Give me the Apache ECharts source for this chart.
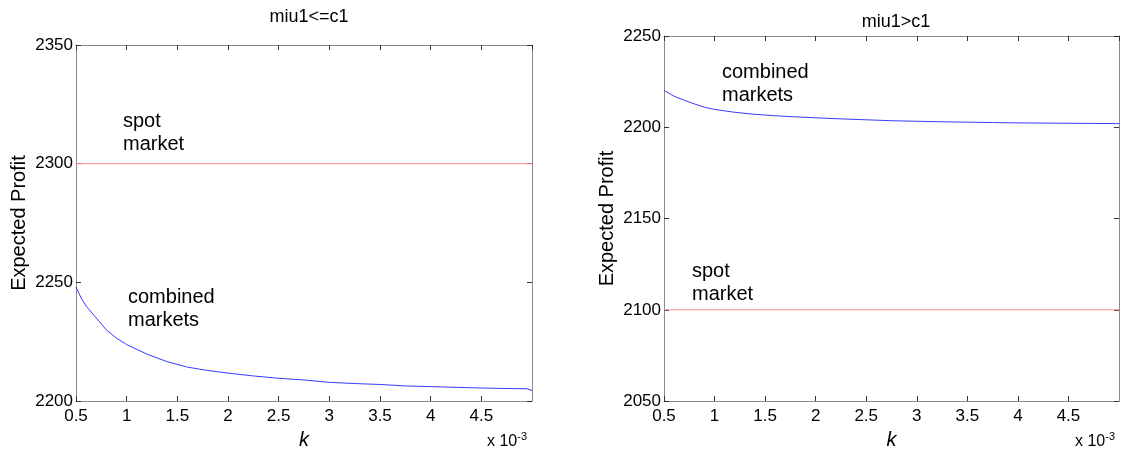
<!DOCTYPE html>
<html>
<head>
<meta charset="utf-8">
<script src="https://cdn.jsdelivr.net/npm/echarts@6/dist/echarts.min.js"></script>
<style>
html,body{margin:0;padding:0;background:#fff;}
#chart{width:1125px;height:455px;}
</style>
</head>
<body>
<div id="chart"></div>
<script>
// ---- data ----
var titles = ['miu1<=c1', 'miu1>c1'];
var xTicks = [0.5, 1, 1.5, 2, 2.5, 3, 3.5, 4, 4.5, 5];
var yTicksLeft = [2200, 2250, 2300, 2350];
var yTicksRight = [2050, 2100, 2150, 2200, 2250];

var kLeft = [0.5, 0.55, 0.6, 0.7, 0.8, 0.9, 1.0, 1.2, 1.4, 1.6, 1.8, 2.0, 2.25, 2.5, 2.75, 3.0, 3.25, 3.5, 3.75, 4.0, 4.25, 4.5, 4.75, 4.95, 5.0];
var combinedLeft = [2248, 2243.5, 2240, 2235, 2230, 2226.5, 2223.8, 2219.8, 2216.6, 2214.3, 2212.9, 2211.8, 2210.6, 2209.6, 2208.9, 2207.9, 2207.4, 2207.0, 2206.4, 2206.1, 2205.8, 2205.5, 2205.3, 2205.2, 2204.5];
var spotLeft = 2300;

var kRight = [0.5, 0.6, 0.7, 0.8, 0.9, 1.0, 1.2, 1.4, 1.6, 1.8, 2.0, 2.25, 2.5, 2.75, 3.0, 3.25, 3.5, 3.75, 4.0, 4.25, 4.5, 4.75, 5.0];
var combinedRight = [2220.2, 2217, 2214.8, 2212.8, 2211, 2209.8, 2208.2, 2207.1, 2206.3, 2205.7, 2205.2, 2204.6, 2204.1, 2203.6, 2203.3, 2203.0, 2202.8, 2202.6, 2202.4, 2202.3, 2202.2, 2202.1, 2202.0];
var spotRight = 2100;

var kRange = [0.5, 5];

// ---- build ----
var FONT = '"Liberation Sans", Arial, Helvetica, sans-serif';
function pairs(xs, ys) { return xs.map(function (x, i) { return [x, ys[i]]; }); }
function flat(v) { return kRange.map(function (x) { return [x, v]; }); }

var grids = [
  {left: 76, top: 45, width: 456, height: 358},
  {left: 664, top: 36, width: 455, height: 367}
];

function xAxisPair(gi) {
  var base = {
    type: 'value', gridIndex: gi, min: kRange[0], max: kRange[1], interval: xTicks[1] - xTicks[0],
    axisLine: {show: true, lineStyle: {color: '#8a8a8a', width: 1}},
    axisTick: {show: true, inside: true, length: 5, lineStyle: {color: '#333'}},
    splitLine: {show: false}
  };
  var bottom = Object.assign({}, base, {
    position: 'bottom',
    axisLabel: {show: true, color: '#000', fontSize: 17, fontFamily: FONT, margin: 7, showMaxLabel: false,
      formatter: function (v) { return String(v); }},
    name: 'k', nameLocation: 'middle', nameGap: 27,
    nameTextStyle: {fontStyle: 'italic', fontSize: 20, color: '#000', fontFamily: FONT}
  });
  var top = Object.assign({}, base, {position: 'top', axisLabel: {show: false}});
  return [bottom, top];
}
function yAxisPair(gi, ticks) {
  var base = {
    type: 'value', gridIndex: gi, min: ticks[0], max: ticks[ticks.length - 1], interval: ticks[1] - ticks[0],
    axisLine: {show: true, lineStyle: {color: '#8a8a8a', width: 1}},
    axisTick: {show: true, inside: true, length: 5, lineStyle: {color: '#333'}},
    splitLine: {show: false}
  };
  var left = Object.assign({}, base, {
    position: 'left',
    axisLabel: {show: true, color: '#000', fontSize: 17, fontFamily: FONT, margin: 3,
      formatter: function (v) { return String(v); }},
    name: 'Expected Profit', nameLocation: 'middle', nameGap: 47,
    nameTextStyle: {fontSize: 20, color: '#000', fontFamily: FONT}
  });
  var right = Object.assign({}, base, {position: 'right', axisLabel: {show: false}});
  return [left, right];
}

var xAxes = xAxisPair(0).concat(xAxisPair(1));
var yAxes = yAxisPair(0, yTicksLeft).concat(yAxisPair(1, yTicksRight));

function lineSeries(xi, yi, data, color) {
  return {
    type: 'line', xAxisIndex: xi, yAxisIndex: yi, data: data,
    showSymbol: false, symbol: 'none', smooth: false, animation: false,
    lineStyle: {color: color, width: 1}, silent: true
  };
}

var textStyle = {fill: '#000', fontSize: 20, fontFamily: FONT, lineHeight: 23};
function note(x, y, txt) {
  return {type: 'text', left: x, top: y, style: Object.assign({text: txt}, textStyle), silent: true};
}
function scale10(x) {
  return {type: 'text', left: x, top: 431, silent: true,
    style: {text: '{a|x 10}{b|-3}', fontFamily: FONT,
      rich: {a: {fontSize: 16, fill: '#000', fontFamily: FONT},
             b: {fontSize: 11, fill: '#000', fontFamily: FONT, verticalAlign: 'top', padding: [0, 0, 10, 0]}}}};
}

var option = {
  backgroundColor: '#fff',
  animation: false,
  title: [
    {text: titles[0], left: 304, top: 3, textAlign: 'center',
     textStyle: {fontSize: 18, fontWeight: 'normal', color: '#000', fontFamily: FONT}},
    {text: titles[1], left: 891, top: 8, textAlign: 'center',
     textStyle: {fontSize: 18, fontWeight: 'normal', color: '#000', fontFamily: FONT}}
  ],
  grid: grids,
  xAxis: xAxes,
  yAxis: yAxes,
  series: [
    lineSeries(0, 0, flat(spotLeft), '#ff8c8c'),
    lineSeries(0, 0, pairs(kLeft, combinedLeft), '#3a3aff'),
    lineSeries(2, 2, flat(spotRight), '#ff8c8c'),
    lineSeries(2, 2, pairs(kRight, combinedRight), '#3a3aff')
  ],
  graphic: [
    note(123, 110, 'spot\nmarket'),
    note(128, 286, 'combined\nmarkets'),
    note(722, 61, 'combined\nmarkets'),
    note(692, 260, 'spot\nmarket'),
    scale10(487),
    scale10(1075)
  ]
};

var chart = echarts.init(document.getElementById('chart'), null, {renderer: 'canvas'});
chart.setOption(option);
</script>
</body>
</html>
